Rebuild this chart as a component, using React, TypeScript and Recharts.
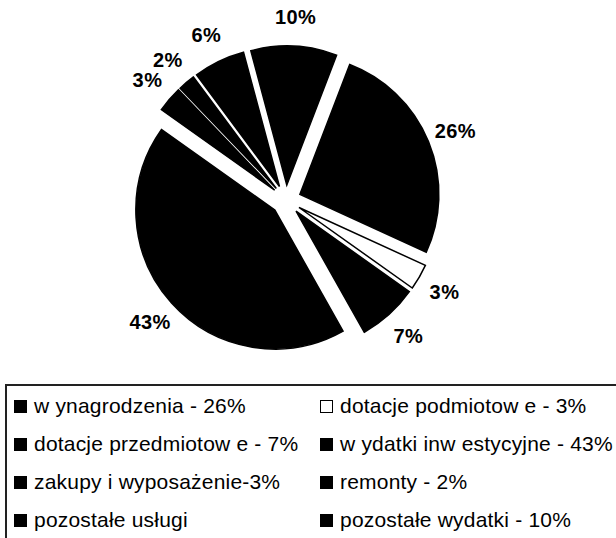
import { Cell, Legend, Pie, PieChart, Sector } from "recharts"

const sliceNames = [
  "w ynagrodzenia - 26%",
  "dotacje podmiotow e - 3%",
  "dotacje przedmiotow e - 7%",
  "w ydatki inw estycyjne - 43%",
  "zakupy i wyposażenie-3%",
  "remonty - 2%",
  "pozostałe usługi",
  "pozostałe wydatki - 10%",
]
const sliceShares = [26, 3, 7, 43, 3, 2, 6, 10]
const sliceFills = ["#000000", "#ffffff", "#000000", "#000000", "#000000", "#000000", "#000000", "#000000"]

const data = sliceNames.map((name, i) => ({ name, value: sliceShares[i] }))

const RADIAN = Math.PI / 180
const EXPLODE = 15
const FONT = '"Liberation Sans", Arial, sans-serif'

function ExplodedSector(props: any) {
  const { cx, cy, midAngle, innerRadius, outerRadius, startAngle, endAngle, fill } = props
  const dx = EXPLODE * Math.cos(midAngle * RADIAN)
  const dy = -EXPLODE * Math.sin(midAngle * RADIAN)
  return (
    <Sector
      cx={cx + dx}
      cy={cy + dy}
      innerRadius={innerRadius}
      outerRadius={outerRadius}
      startAngle={startAngle}
      endAngle={endAngle}
      fill={fill}
      stroke="#000"
      strokeWidth={1.5}
    />
  )
}

function SliceLabel(props: any) {
  const { cx, cy, midAngle, outerRadius, value } = props
  const r = outerRadius + 44
  const x = cx + r * Math.cos(midAngle * RADIAN)
  const y = cy - r * Math.sin(midAngle * RADIAN)
  return (
    <text
      x={x}
      y={y}
      textAnchor="middle"
      dominantBaseline="central"
      fontFamily={FONT}
      fontWeight="bold"
      fontSize={20}
      letterSpacing={0.4}
      fill="#000"
    >
      {`${value}%`}
    </text>
  )
}

// legend keeps the data order (two columns, row by row)
function LegendBox() {
  return (
    <div
      style={{
        boxSizing: "border-box",
        width: 700,
        height: 220,
        border: "2px solid #222",
        paddingTop: 1,
        display: "grid",
        gridTemplateColumns: "306px 1fr",
        gridAutoRows: "38px",
        fontFamily: FONT,
        fontSize: 21,
        letterSpacing: 0.2,
        color: "#000",
      }}
    >
      {sliceNames.map((name, i) => (
        <div key={name} style={{ display: "flex", alignItems: "center", paddingLeft: 7, whiteSpace: "nowrap" }}>
          <span
            style={{
              display: "inline-block",
              boxSizing: "border-box",
              width: 13,
              height: 13,
              background: sliceFills[i],
              border: "1px solid #000",
              marginRight: 7,
            }}
          />
          <span>{name}</span>
        </div>
      ))}
    </div>
  )
}

export default function App() {
  return (
    <div style={{ position: "absolute", left: 0, top: 0, width: 616, height: 538, overflow: "hidden", background: "#fff" }}>
      <PieChart width={616} height={538} margin={{ top: 0, right: 0, bottom: 0, left: 0 }}>
        <Pie
          data={data}
          dataKey="value"
          nameKey="name"
          cx={286}
          cy={200}
          outerRadius={139}
          startAngle={69}
          endAngle={-291}
          shape={ExplodedSector}
          label={SliceLabel}
          labelLine={false}
          isAnimationActive={false}
        >
          {data.map((entry, i) => (
            <Cell key={entry.name} fill={sliceFills[i]} />
          ))}
        </Pie>
        <Legend
          content={LegendBox}
          wrapperStyle={{ position: "absolute", left: 5, top: 384, bottom: "auto", width: 700, height: 220 }}
        />
      </PieChart>
    </div>
  )
}
